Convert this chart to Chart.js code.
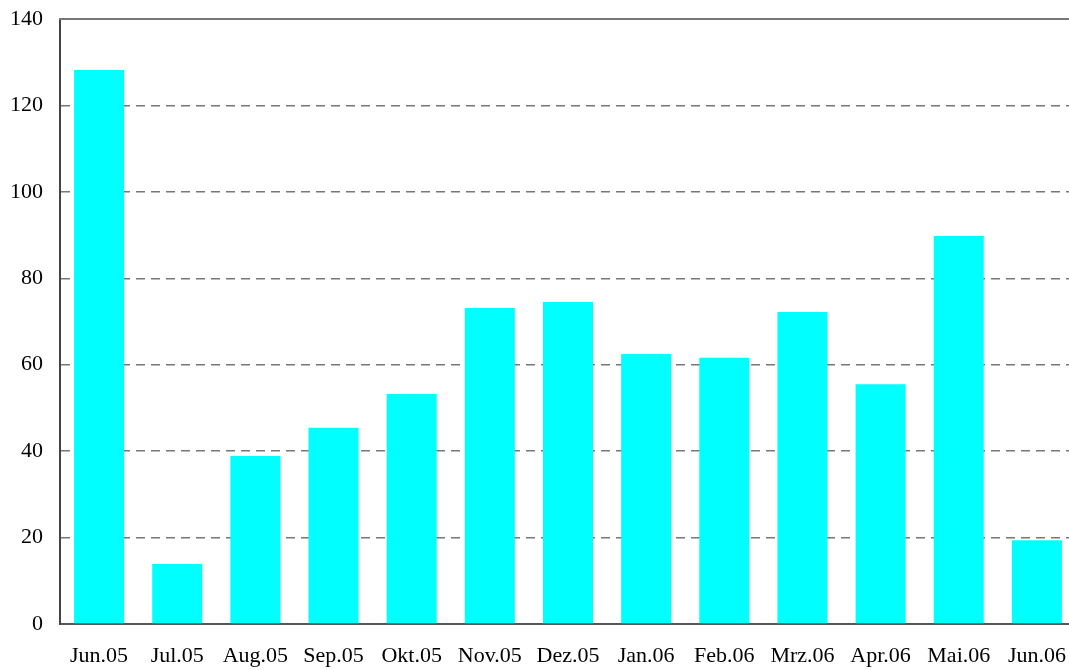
<!DOCTYPE html>
<html>
<head>
<meta charset="utf-8">
<script src="https://cdn.jsdelivr.net/npm/chart.js@4/dist/chart.umd.min.js"></script>
<style>
  html, body { margin: 0; padding: 0; background: #fff; overflow: hidden; }
  #wrap { width: 1076px; height: 670px; }
</style>
</head>
<body>
<div id="wrap"><canvas id="chart"></canvas></div>
<script>
// data
const months = ['Jun.05', 'Jul.05', 'Aug.05', 'Sep.05', 'Okt.05', 'Nov.05', 'Dez.05', 'Jan.06', 'Feb.06', 'Mrz.06', 'Apr.06', 'Mai.06', 'Jun.06'];
const values = [128.2, 13.9, 38.9, 45.4, 53.2, 73.1, 74.5, 62.5, 61.6, 72.2, 55.5, 89.8, 19.4];
const yMin = 0, yMax = 140, yStep = 20;

// solid line along the top of the plot area
const topBorder = {
  id: 'topBorder',
  afterDraw(chart) {
    const { ctx, chartArea } = chart;
    ctx.save();
    ctx.strokeStyle = '#777';
    ctx.lineWidth = 2;
    ctx.beginPath();
    ctx.moveTo(chartArea.left - 1, chartArea.top);
    ctx.lineTo(chartArea.right, chartArea.top);
    ctx.stroke();
    ctx.restore();
  }
};

new Chart(document.getElementById('chart'), {
  type: 'bar',
  data: {
    labels: months,
    datasets: [{ data: values, backgroundColor: '#00ffff', borderWidth: 0, categoryPercentage: 1, barPercentage: 0.64 }]
  },
  options: {
    responsive: true, maintainAspectRatio: false, animation: false,
    layout: { padding: { top: 19, right: 0, left: 0, bottom: 0 } },
    plugins: { legend: { display: false }, tooltip: { enabled: false } },
    scales: {
      x: {
        grid: { display: false, drawTicks: false },
        border: { color: '#555', width: 2 },
        ticks: { color: '#000', font: { family: 'Liberation Serif', size: 22 }, padding: 19, maxRotation: 0, autoSkip: false },
        afterFit: s => { s.height = 46; s.paddingLeft = 0; s.paddingRight = 0; }
      },
      y: {
        min: yMin, max: yMax,
        grid: { color: '#777', lineWidth: 1.5, drawTicks: false },
        border: { color: '#444', width: 2, dash: [9, 6] },
        ticks: { stepSize: yStep, color: '#000', font: { family: 'Liberation Serif', size: 22 }, padding: 17 },
        afterFit: s => { s.width = 60; s.paddingTop = 0; s.paddingBottom = 0; }
      }
    }
  },
  plugins: [topBorder]
});
</script>
</body>
</html>
